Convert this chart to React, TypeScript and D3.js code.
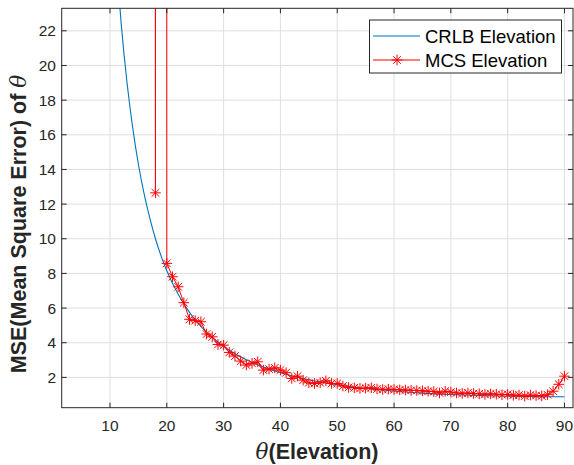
import React from 'react';
import * as d3 from 'd3';

// CRLB vs Monte-Carlo MSE of elevation estimate, MATLAB-style figure
const W = 574;
const H = 465;

// plot box (pixels)
const left = 61.7;
const right = 573;
const top = 8.3;
const bottom = 407.7;

const xTicks = [10, 20, 30, 40, 50, 60, 70, 80, 90];
const yTicks = [2, 4, 6, 8, 10, 12, 14, 16, 18, 20, 22];

// CRLB curve
const crlbTheta = [11, 12, 13, 14, 15, 16, 17, 18, 19, 20, 22, 24, 26, 28, 30, 35, 40, 45, 50, 55, 60, 65, 70, 75, 80, 85, 90];
const crlbMse = [26.5, 22.3, 19.0, 16.4, 14.3, 12.6, 11.2, 10.0, 9.0, 8.15, 6.8, 5.75, 4.95, 4.3, 3.78, 2.86, 2.27, 1.86, 1.57, 1.36, 1.21, 1.09, 1.01, 0.95, 0.91, 0.89, 0.88];

// Monte-Carlo simulation (17 and 19 blow up off the top of the chart)
const mcsTheta = d3.range(16, 91);
const mcsMse = [
  900, 1200, 12.65, 2500, 8.58, 7.81, 7.23, 6.31, 5.35, 5.27,
  5.21, 4.5, 4.34, 3.9, 3.86, 3.44, 3.23, 2.94, 2.71, 2.81,
  2.9, 2.42, 2.48, 2.55, 2.42, 2.27, 1.94, 2.07, 1.84, 1.69,
  1.65, 1.69, 1.8, 1.65, 1.65, 1.5, 1.42, 1.4, 1.36, 1.38,
  1.4, 1.33, 1.3, 1.32, 1.3, 1.28, 1.27, 1.25, 1.24, 1.22,
  1.2, 1.18, 1.1, 1.2, 1.15, 1.1, 1.08, 1.1, 1.07, 1.05,
  1.02, 1.05, 1.03, 1.0, 1.02, 0.97, 0.98, 0.92, 0.98, 0.95,
  0.93, 1.0, 1.2, 1.6, 2.07,
];

const BLUE = '#0072BD';
const RED = '#FF0000';
const AXIS = '#262626';
const FONT = 'Arial, "Liberation Sans", Helvetica, sans-serif';
const THETA_FONT = '"DejaVu Serif", "Liberation Serif", serif';

function Star({ cx, cy, r = 5.3 }: { cx: number; cy: number; r?: number }) {
  const d = r * 0.72;
  return (
    <g stroke={RED} strokeWidth={1} fill="none">
      <line x1={cx - r} y1={cy} x2={cx + r} y2={cy} />
      <line x1={cx} y1={cy - r} x2={cx} y2={cy + r} />
      <line x1={cx - d} y1={cy - d} x2={cx + d} y2={cy + d} />
      <line x1={cx - d} y1={cy + d} x2={cx + d} y2={cy - d} />
    </g>
  );
}

export default function App() {
  const x = d3.scaleLinear().domain([1.5, 91.5]).range([left, right]);
  const y = d3.scaleLinear().domain([0.25, 23.3]).range([bottom, top]);

  const crlbLine = d3
    .line<number>()
    .x((_, i) => x(crlbTheta[i]))
    .y((d) => y(d))
    .curve(d3.curveMonotoneX);

  const mcsLine = d3
    .line<number>()
    .x((_, i) => x(mcsTheta[i]))
    .y((d) => y(d));

  const tick = 5;

  return (
    <svg
      width={W}
      height={H}
      style={{ position: 'absolute', left: 0, top: 0, background: '#fff' }}
      fontFamily={FONT}
    >
      <defs>
        <clipPath id="plot">
          <rect x={left} y={top} width={right - left} height={bottom - top} />
        </clipPath>
      </defs>

      {/* grid */}
      <g stroke="#dfdfdf" strokeWidth={1}>
        {xTicks.map((t) => (
          <line key={'gx' + t} x1={x(t)} x2={x(t)} y1={top} y2={bottom} />
        ))}
        {yTicks.map((t) => (
          <line key={'gy' + t} x1={left} x2={right} y1={y(t)} y2={y(t)} />
        ))}
      </g>

      {/* series */}
      <g clipPath="url(#plot)">
        <path d={crlbLine(crlbMse) || ''} fill="none" stroke={BLUE} strokeWidth={1.1} />
        <path d={mcsLine(mcsMse) || ''} fill="none" stroke={RED} strokeWidth={1} />
        {mcsMse.map((v, i) => (
          <Star key={i} cx={x(mcsTheta[i])} cy={y(v)} />
        ))}
      </g>

      {/* axes box and ticks */}
      <g stroke={AXIS} strokeWidth={1} fill="none">
        <rect x={left} y={top} width={right - left} height={bottom - top} />
        {xTicks.map((t) => (
          <g key={'tx' + t}>
            <line x1={x(t)} x2={x(t)} y1={bottom} y2={bottom - tick} />
            <line x1={x(t)} x2={x(t)} y1={top} y2={top + tick} />
          </g>
        ))}
        {yTicks.map((t) => (
          <g key={'ty' + t}>
            <line x1={left} x2={left + tick} y1={y(t)} y2={y(t)} />
            <line x1={right} x2={right - tick} y1={y(t)} y2={y(t)} />
          </g>
        ))}
      </g>

      {/* tick labels */}
      <g fill={AXIS} fontSize={15.5}>
        {xTicks.map((t) => (
          <text key={'lx' + t} x={x(t)} y={431} textAnchor="middle">
            {t}
          </text>
        ))}
        {yTicks.map((t) => (
          <text key={'ly' + t} x={56} y={y(t) + 5.5} textAnchor="end">
            {t}
          </text>
        ))}
      </g>

      {/* axis labels */}
      <text
        x={317}
        y={459}
        textAnchor="middle"
        fontSize={21.5}
        fontWeight="bold"
        fill={AXIS}
      >
        <tspan fontStyle="italic" fontWeight="normal" fontFamily={THETA_FONT}>θ</tspan>
        (Elevation)
      </text>
      <text
        transform={`translate(26,224) rotate(-90)`}
        textAnchor="middle"
        fontSize={21.5}
        fontWeight="bold"
        fill={AXIS}
      >
        MSE(Mean Square Error) of{' '}
        <tspan fontStyle="italic" fontWeight="normal" fontFamily={THETA_FONT}>θ</tspan>
      </text>

      {/* legend */}
      <g>
        <rect x={369.5} y={20} width={192} height={53} fill="#fff" stroke={AXIS} strokeWidth={1} />
        <line x1={373} x2={420} y1={36} y2={36} stroke={BLUE} strokeWidth={1.1} />
        <line x1={373} x2={420} y1={60} y2={60} stroke={RED} strokeWidth={1} />
        <Star cx={397} cy={60} />
        <text x={425} y={43} fontSize={18.5} fill="#000">
          CRLB Elevation
        </text>
        <text x={425} y={67} fontSize={18.5} fill="#000">
          MCS Elevation
        </text>
      </g>
    </svg>
  );
}
